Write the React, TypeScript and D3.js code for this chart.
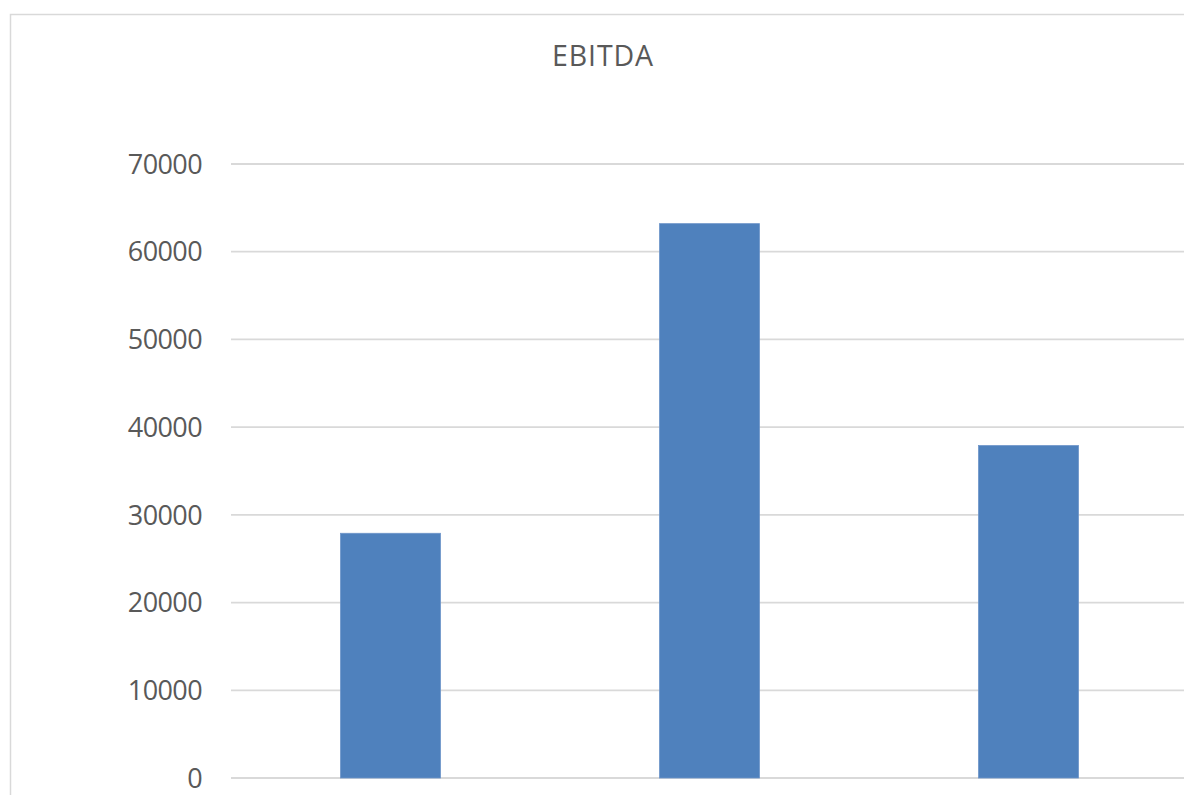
import React from "react";
import * as d3 from "d3";

// EBITDA by period
const categories = ["1", "2", "3"];
const ebitda = [27900, 63200, 37900];
const yTicks = [0, 10000, 20000, 30000, 40000, 50000, 60000, 70000];
const chartTitle = "EBITDA";

const W = 1184;
const H = 795;
const FONT = "'Open Sans', 'Noto Sans', sans-serif";
const TEXT = "#595959";
const GRID = "#d9d9d9";
const BAR = "#4f81bd";

export default function App() {
  const y = d3.scaleLinear().domain([0, 70000]).range([778, 164]);
  const x = d3
    .scaleBand<string>()
    .domain(categories)
    .range([231, 1188])
    .paddingInner(0.6865)
    .paddingOuter(0.6865 / 2);

  return (
    <svg
      width={W}
      height={H}
      style={{ position: "absolute", left: 0, top: 0, background: "#fff" }}
    >
      <rect x={0} y={0} width={W} height={H} fill="#fff" />
      {/* chart area frame */}
      <rect
        x={10.5}
        y={14.5}
        width={1186}
        height={820}
        fill="#fff"
        stroke={GRID}
        strokeWidth={1.5}
      />
      <text
        x={603}
        y={66}
        textAnchor="middle"
        fontFamily={FONT}
        fontSize={28.5}
        letterSpacing={0.9}
        fill={TEXT}
      >
        {chartTitle}
      </text>
      {yTicks.map((t) => (
        <g key={t}>
          <line
            x1={231}
            x2={1188}
            y1={y(t)}
            y2={y(t)}
            stroke={GRID}
            strokeWidth={1.8}
          />
          <text
            x={202}
            y={y(t) + 9.7}
            textAnchor="end"
            fontFamily={FONT}
            fontSize={27}
            letterSpacing={-0.6}
            fill={TEXT}
          >
            {t}
          </text>
        </g>
      ))}
      {categories.map((c, i) => (
        <rect
          key={c}
          x={x(c)!}
          y={y(ebitda[i])}
          width={x.bandwidth()}
          height={y(0) - y(ebitda[i])}
          fill={BAR}
          stroke="#6d95c9"
          strokeWidth={0.8}
        />
      ))}
    </svg>
  );
}
